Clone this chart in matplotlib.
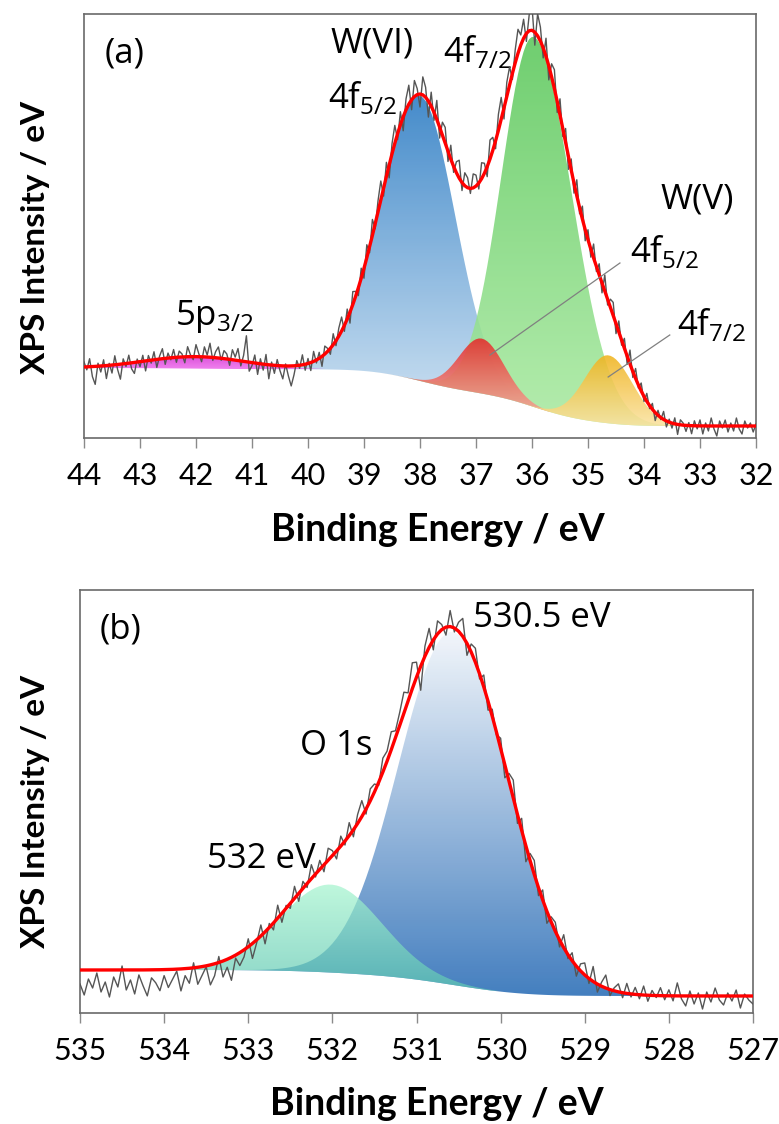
import numpy as np
import matplotlib
matplotlib.use('Agg')
import matplotlib.pyplot as plt
from matplotlib.colors import LinearSegmentedColormap

plt.rcParams['font.family'] = 'Open Sans'
plt.rcParams['mathtext.fontset'] = 'custom'
plt.rcParams['mathtext.rm'] = 'Open Sans'

# ---------------- panel (a): W 4f ----------------
be_w = np.linspace(44, 32, 241)          # 0.05 eV steps
# residual of the measured trace around the fit envelope (read off the picture)
noise_w = [5, -3, 8, -10, -18, 3, -6, 6, -13, 2, -8, 9, -5, -15, 5, -3, 8, -6, -11, 3,
           -5, 6, -10, 5, -3, 8, -8, 3, 10, -6, 5, -2, 8, -5, 6, 3, -6, 10, 2, -3,
           12, 3, -5, 10, 2, 14, -3, 6, 11, -2, 8, 5, -6, 10, 3, 12, -5, 6, 26, -9,
           -3, 8, -11, 5, -6, 10, -14, 3, -8, 6, -5, -13, 2, -10, -20, -9, 5, -3, 10, -6,
           5, -8, 10, -3, 6, -10, 8, 3, -6, 11, -5, 8, 14, -6, 10, -11, 13, 5, -8, 10,
           -10, 13, -6, 16, -5, 11, 19, -8, 14, -13, 10, 18, -6, 13, -14, 11, 19, -10, 16, 6,
           -13, 18, 10, -16, 14, -8, 19, -11, 13, 16, -10, 14, -6, 11, 18, -8, 13, 10, -5, 14,
           11, -6, 16, 10, -10, 19, 13, -8, 16, 22, -11, 14, 18, -6, 13, 24, 10, 19, -8, 16,
           24, -13, 22, 14, -10, 18, -14, 13, 19, -11, 16, -8, 14, -13, 11, -10, 16, -6, 13, -11,
           10, -8, 14, -5, 11, -10, 16, -6, 8, 13, -10, 11, -5, 10, -8, 14, -6, 10, -3, 8,
           -5, 8, -3, 6, -8, 5, -2, 8, -6, 3, -5, 6, -10, 5, 2, -6, 3, -8, 5, -3,
           6, -8, 3, -5, 8, -3, -10, 5, -2, 6, -6, 3, -5, 8, -3, -8, 5, -2, 3, -6,
           2]
# fitted components: 5p3/2, W(VI) 4f5/2, W(VI) 4f7/2, W(V) 4f5/2, W(V) 4f7/2
w_center = [42.0, 38.0, 35.97, 36.9, 34.64]
w_height = [12, 285, 370, 55, 68]
w_sig_hi = [0.9, 0.70, 0.57, 0.40, 0.42]
w_sig_lo = [0.9, 0.63, 0.68, 0.40, 0.44]
w_bg_ends = (70, 12)
w_top = ['#d83ad6', '#2c7cc4', '#5cc85c', '#e62a2a', '#f0b41e']
w_bot = ['#ee6eec', '#c4dcf0', '#aaeaa2', '#f4a494', '#fbe3a2']
w_order = [1, 2, 3, 4, 0]

# ---------------- panel (b): O 1s ----------------
be_o = np.linspace(535, 527, 161)
noise_o = [-14, -25, -9, -18, -3, -22, -12, -27, -7, -17, 4, -20, -10, -24, -5, -16, -26, -8, -13, -21,
           -6, -18, -10, -2, -22, -7, -15, 5, -17, -9, -1, -20, -12, 6, -16, -8, -23, -3, -13, -7,
           8, -15, -3, 11, -12, 4, -7, 13, -9, 3, -5, 12, -8, 7, -4, 14, -3, 9, -7, 12,
           5, -8, 10, -4, 13, -7, 9, 16, -5, 12, 8, -3, 14, 10, 18, 7, 13, 21, 8, 26,
           15, -24, 10, 19, -10, 13, 5, -8, 16, -4, 9, 18, -12, 8, 14, -5, 12, -9, 7, -3,
           10, -13, 8, 18, -9, 12, -16, 7, 14, -8, 10, -12, 5, 9, -7, 13, -4, 8, -10, 7,
           12, -5, 15, -8, 4, 13, -6, 3, 8, -5, 10, -3, 7, -4, 9, -6, 5, -2, 8, -4,
           6, -5, 13, -3, -10, 5, -8, 3, -13, 4, -6, 8, -4, -9, 3, -5, 6, -12, 2, -4,
           -8]
o_center = [530.57, 532.02]
o_height = [353, 88]
o_sig_hi = [0.64, 0.60]
o_sig_lo = [0.66, 0.60]
o_bg_ends = (43, 17)
o_top = ['#f2f6fb', '#a6f5cf']
o_bot = ['#3a78bc', '#5ec6b2']
o_alpha = [0.95, 0.72]


def peak(be, c, h, s_hi, s_lo):
    s = np.where(be >= c, s_hi, s_lo)
    return h * np.exp(-0.5 * ((be - c) / s) ** 2)


def shirley(total, left, right):
    area = np.cumsum(total[::-1])[::-1]
    return right + (left - right) * area / area[0]


def grad_fill(ax, x, y0, y1, ctop, cbot, alpha, z):
    poly = ax.fill_between(x, y0, y1, facecolor='none', edgecolor='none')
    path = poly.get_paths()[0]
    cmap = LinearSegmentedColormap.from_list('g', [cbot, ctop])
    sig = (y1 - y0) > 0.5
    lo, hi = y0[sig].min(), y1.max()
    grad = np.linspace(0, 1, 256).reshape(-1, 1)
    im = ax.imshow(grad, extent=[x.max(), x.min(), lo, hi], origin='lower',
                   aspect='auto', cmap=cmap, alpha=alpha, zorder=z,
                   interpolation='bilinear')
    im.set_clip_path(path, transform=ax.transData)


def style_axes(ax, ticks, xlim, ylim):
    ax.set_xlim(*xlim)
    ax.set_ylim(*ylim)
    ax.set_xticks(ticks)
    ax.set_xticklabels([str(t) for t in ticks], fontfamily='Lato', fontsize=22)
    ax.set_yticks([])
    ax.tick_params(axis='x', direction='out', length=7.2, width=1.0,
                   color='#8a8a8a', pad=10)
    for sp in ax.spines.values():
        sp.set_color('#6a6a6a')
        sp.set_linewidth(1.2)


fig = plt.figure(figsize=(7.79, 11.24), dpi=100)
ax1 = fig.add_axes([84 / 779, 1 - 438 / 1124, 672 / 779, 424 / 1124])
ax2 = fig.add_axes([80 / 779, 1 - 1013 / 1124, 673 / 779, 423 / 1124])

# ---- draw (a)
comps_w = [peak(be_w, c, h, a, b) for c, h, a, b in
           zip(w_center, w_height, w_sig_hi, w_sig_lo)]
bg_w = shirley(sum(comps_w), *w_bg_ends)
fit_w = bg_w + sum(comps_w)
raw_w = fit_w + np.array(noise_w)
for k, i in enumerate(w_order):
    grad_fill(ax1, be_w, bg_w, bg_w + comps_w[i], w_top[i], w_bot[i], 0.88, 2 + k)
ax1.plot(be_w, raw_w, color='#555555', lw=1.0, zorder=10)
ax1.plot(be_w, fit_w, color='#ff0000', lw=2.4, zorder=11)
style_axes(ax1, list(range(44, 31, -1)), (44, 32), (0, 424))

fs = 25
ax1.text(43.27, 384, '(a)', fontsize=fs, ha='center', va='center')
ax1.text(38.86, 395, 'W(VI)', fontsize=fs, ha='center', va='center')
ax1.text(39.64, 330, r'4f$_{\mathregular{5/2}}$', fontsize=fs, ha='left', va='baseline')
ax1.text(37.59, 376, r'4f$_{\mathregular{7/2}}$', fontsize=fs, ha='left', va='baseline')
ax1.text(33.05, 238, 'W(V)', fontsize=fs, ha='center', va='center')
ax1.text(34.25, 176, r'4f$_{\mathregular{5/2}}$', fontsize=fs, ha='left', va='baseline')
ax1.text(33.41, 103, r'4f$_{\mathregular{7/2}}$', fontsize=fs, ha='left', va='baseline')
ax1.text(42.375, 113, r'5p$_{\mathregular{3/2}}$', fontsize=fs, ha='left', va='baseline')
ax1.plot([34.43, 36.75], [175, 83], color='#808080', lw=0.9, zorder=12)
ax1.plot([33.54, 34.64], [103, 61], color='#808080', lw=0.9, zorder=12)

# ---- draw (b)
comps_o = [peak(be_o, c, h, a, b) for c, h, a, b in
           zip(o_center, o_height, o_sig_hi, o_sig_lo)]
bg_o = shirley(sum(comps_o), *o_bg_ends)
fit_o = bg_o + sum(comps_o)
raw_o = fit_o + np.array(noise_o)
for i in range(2):
    grad_fill(ax2, be_o, bg_o, bg_o + comps_o[i], o_top[i], o_bot[i], o_alpha[i], 2 + i)
ax2.plot(be_o, raw_o, color='#555555', lw=1.0, zorder=10)
ax2.plot(be_o, fit_o, color='#ff0000', lw=2.4, zorder=11)
style_axes(ax2, list(range(535, 526, -1)), (535, 527), (0, 423))

ax2.text(534.52, 383, '(b)', fontsize=fs, ha='center', va='center')
ax2.text(530.33, 386, '530.5 eV', fontsize=fs, ha='left', va='baseline')
ax2.text(532.38, 258, 'O 1s', fontsize=fs, ha='left', va='baseline')
ax2.text(533.49, 145, '532 eV', fontsize=fs, ha='left', va='baseline')

# axis titles
ylab = dict(fontfamily='Lato', fontweight='bold', fontsize=24, ha='center', va='center')
xlab = dict(fontfamily='Lato', fontweight='bold', fontsize=27, ha='center', va='center')
fig.text(36 / 779, 1 - 237 / 1124, 'XPS Intensity / eV', rotation=90, **ylab)
fig.text(36 / 779, 1 - 811 / 1124, 'XPS Intensity / eV', rotation=90, **ylab)
fig.text(438 / 779, 1 - 530 / 1124, 'Binding Energy / eV', **xlab)
fig.text(437 / 779, 1 - 1104 / 1124, 'Binding Energy / eV', **xlab)

fig.savefig('out.png', dpi=100)
